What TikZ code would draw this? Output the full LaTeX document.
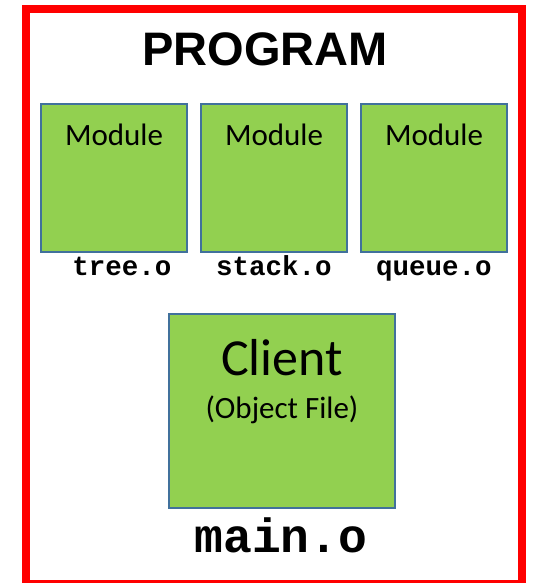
\documentclass[tikz,border=0pt]{standalone}
\usepackage{fontspec}
\setmainfont{Carlito}
\newfontfamily\headfont{Liberation Sans}
\newfontfamily\codefont{Liberation Mono}
\definecolor{boxgreen}{HTML}{92D050}
\definecolor{boxblue}{HTML}{41719C}
\definecolor{framered}{HTML}{FF0000}
\tikzset{
  modbox/.style={draw=boxblue, fill=boxgreen, line width=2pt, inner sep=0pt, outer sep=0pt},
  modtext/.style={anchor=base, inner sep=0pt, font=\fontsize{31}{34}\selectfont},
  objlabel/.style={anchor=base, inner sep=0pt, font=\codefont\bfseries\fontsize{27.5}{30}\selectfont},
}
\begin{document}
\begin{tikzpicture}[x=1pt, y=-1pt]
\useasboundingbox (0,0) rectangle (533,583);
\begin{scope}
\clip (0,0) rectangle (533,583);
\draw[framered, line width=8pt] (26,9) rectangle (522,584);
\end{scope}
\node[anchor=base, inner sep=0pt, font=\headfont\bfseries\fontsize{47}{52}\selectfont] (title) at (265,66) {PROGRAM};
% module boxes
\draw[modbox] (41,104) rectangle (187,252) node (m1) [pos=0.5] {};
\draw[modbox] (201,104) rectangle (347,252) node (m2) [pos=0.5] {};
\draw[modbox] (361,104) rectangle (507,252) node (m3) [pos=0.5] {};
\node[modtext] (t1) at (114,145) {Module};
\node[modtext] (t2) at (274,145) {Module};
\node[modtext] (t3) at (434,145) {Module};
\node[objlabel] (l1) at (122,275) {tree.o};
\node[objlabel] (l2) at (274,275) {stack.o};
\node[objlabel] (l3) at (434,275) {queue.o};
% client box
\draw[modbox] (169,314) rectangle (395,508) node (c) [pos=0.5] {};
\node[anchor=base, inner sep=0pt, font=\fontsize{52}{56}\selectfont] (ct) at (282,375) {Client};
\node[anchor=base, inner sep=0pt, font=\fontsize{31}{34}\selectfont] (cs) at (282,418) {(Object File)};
\node[anchor=base, inner sep=0pt, font=\codefont\bfseries\fontsize{48}{52}\selectfont] (mo) at (281,552) {main.o};
\end{tikzpicture}
\end{document}
